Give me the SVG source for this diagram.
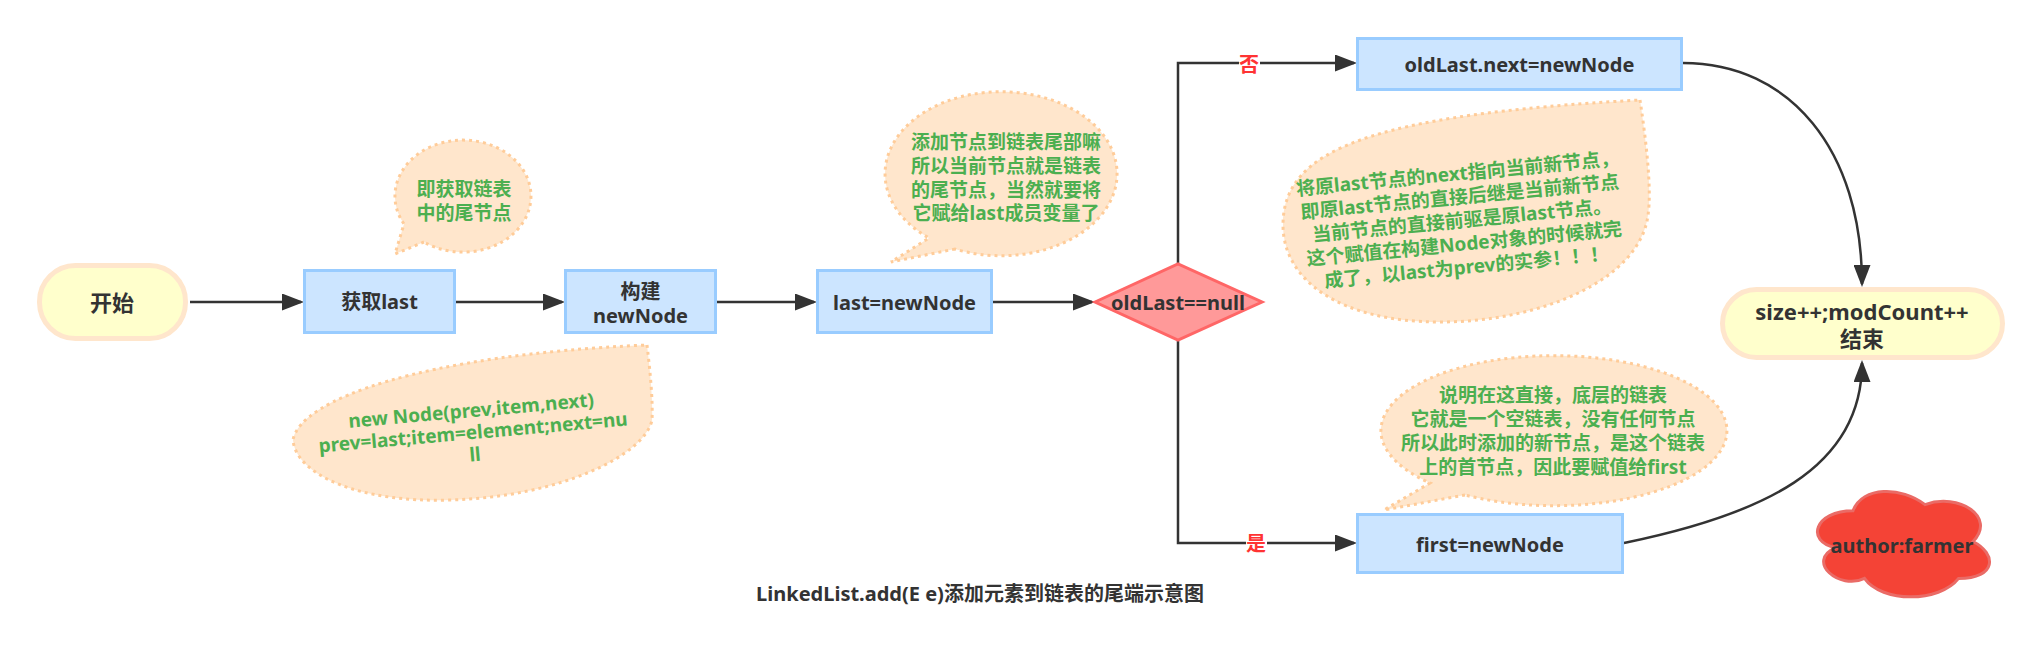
<svg xmlns="http://www.w3.org/2000/svg" width="2041" height="658" viewBox="0 0 2041 658">
<style>
text{font-family:"Noto Sans","Noto Sans CJK SC",sans-serif;font-weight:bold;dominant-baseline:central;text-anchor:middle}
.nt{fill:#333;font-size:20px}
.tt{fill:#333;font-size:22px}
.gt{fill:#4CAF50;font-size:19px}
.rt{fill:#FF3333;font-size:20px}
.box{fill:#CCE5FF;stroke:#99CCFF;stroke-width:3}
.term{fill:#FFFFCC;stroke:#FFE6CC;stroke-width:5}
.dia{fill:#FF9999;stroke:#FF6666;stroke-width:3}
.call{fill:#FFE6CC;stroke:#FFCC99;stroke-width:3;stroke-dasharray:3 4}
.edge{fill:none;stroke:#333;stroke-width:2.5;marker-end:url(#arr)}
</style>
<defs>
<marker id="arr" markerUnits="userSpaceOnUse" markerWidth="22" markerHeight="17" refX="19" refY="8.5" orient="auto">
<path d="M0,0 L22,8.5 L0,17 Z" fill="#333"/>
</marker>
</defs>
<rect width="2041" height="658" fill="#fff"/>

<g id="callout-tail">
<path class="call" d="M424,242 L395,254 L404,224 A68,56 0 1,1 424,242 Z"/>
<text class="gt" x="464" y="189">即获取链表</text>
<text class="gt" x="464" y="213">中的尾节点</text>
</g>

<g id="callout-newnode">
<path class="call" d="M647,345 C650,370 653,400 652,420 C645,455 560,497 450,500 C360,503 296,475 293,440 C300,400 420,355 647,345 Z"/>
<g transform="rotate(-5 473 432)">
<text class="gt" x="473" y="410">new Node(prev,item,next)</text>
<text class="gt" x="473" y="432">prev=last;item=element;next=nu</text>
<text class="gt" x="473" y="454">ll</text>
</g>
</g>

<g id="callout-last">
<path class="call" d="M955,249 L891,262 L929,238 A116,82 0 1,1 955,249 Z"/>
<text class="gt" x="1006" y="142">添加节点到链表尾部嘛</text>
<text class="gt" x="1006" y="166">所以当前节点就是链表</text>
<text class="gt" x="1006" y="190">的尾节点，当然就要将</text>
<text class="gt" x="1006" y="213">它赋给last成员变量了</text>
</g>

<g id="callout-next">
<path class="call" d="M1640,100 C1646,140 1652,190 1648,215 C1640,280 1540,322 1440,322 C1340,322 1283,280 1283,225 C1283,150 1370,115 1640,100 Z"/>
<g transform="rotate(-5.5 1462 220)">
<text class="gt" x="1462" y="173">将原last节点的next指向当前新节点，</text>
<text class="gt" x="1462" y="196.5">即原last节点的直接后继是当前新节点</text>
<text class="gt" x="1462" y="220">当前节点的直接前驱是原last节点。</text>
<text class="gt" x="1462" y="243.5">这个赋值在构建Node对象的时候就完</text>
<text class="gt" x="1462" y="267">成了，以last为prev的实参！！！</text>
</g>
</g>

<g id="callout-first">
<path class="call" d="M1465,495 L1384,510 L1430,483 A173,75 0 1,1 1465,495 Z"/>
<text class="gt" x="1553" y="395">说明在这直接，底层的链表</text>
<text class="gt" x="1553" y="419">它就是一个空链表，没有任何节点</text>
<text class="gt" x="1553" y="443">所以此时添加的新节点，是这个链表</text>
<text class="gt" x="1553" y="467">上的首节点，因此要赋值给first</text>
</g>

<g id="connectors">
<path class="edge" d="M190,302 L301,302"/>
<path class="edge" d="M456,302 L562,302"/>
<path class="edge" d="M717,302 L814,302"/>
<path class="edge" d="M993,302 L1092,302"/>
<path class="edge" d="M1178,264 L1178,63 L1354,63"/>
<path class="edge" d="M1178,340 L1178,543 L1354,543"/>
<path class="edge" d="M1683,63 C1790,63 1862,150 1862,284"/>
<path class="edge" d="M1624,543 C1760,515 1862,470 1862,363"/>
<rect x="1239" y="52" width="21" height="24" fill="#fff"/>
<text class="rt" x="1249" y="64">否</text>
<rect x="1246" y="531" width="21" height="24" fill="#fff"/>
<text class="rt" x="1256" y="543">是</text>
</g>

<g id="start">
<rect class="term" x="39.5" y="265.5" width="146" height="73" rx="36"/>
<text class="tt" x="112" y="302">开始</text>
</g>
<g id="getlast">
<rect class="box" x="304.5" y="270.5" width="150" height="62"/>
<text class="nt" x="379.5" y="301.5">获取last</text>
</g>
<g id="build">
<rect class="box" x="565.5" y="270.5" width="150" height="62"/>
<text class="nt" x="640.5" y="291">构建</text>
<text class="nt" x="640.5" y="315">newNode</text>
</g>
<g id="assign-last">
<rect class="box" x="817.5" y="270.5" width="174" height="62"/>
<text class="nt" x="904.5" y="302">last=newNode</text>
</g>
<g id="decision">
<polygon class="dia" points="1095,302 1178,264 1262,302 1178,340"/>
<text class="nt" x="1178" y="302">oldLast==null</text>
</g>
<g id="assign-next">
<rect class="box" x="1357.5" y="38.5" width="324" height="51"/>
<text class="nt" x="1519.5" y="64">oldLast.next=newNode</text>
</g>
<g id="assign-first">
<rect class="box" x="1357.5" y="514.5" width="265" height="58"/>
<text class="nt" x="1490" y="544">first=newNode</text>
</g>
<g id="end">
<rect class="term" x="1722.5" y="289.5" width="280" height="68" rx="34"/>
<text class="tt" x="1862" y="311">size++;modCount++</text>
<text class="tt" x="1862" y="338">结束</text>
</g>
<g id="author">
<path d="M1853,510.75 C1814.6,510.75 1805,541.5 1835.7,547.65 C1805,561.2 1839.6,590.7 1864.5,578.4 C1881.8,603 1939.4,603 1958.6,578.4 C1997,578.4 1997,553.8 1973,541.5 C1997,516.9 1958.6,492.3 1925,504.6 C1901,486.15 1862.6,486.15 1853,510.75 Z" fill="#F44336" stroke="#EA6B66" stroke-width="3"/>
<text class="nt" x="1902" y="545">author:farmer</text>
</g>
<g id="title">
<text x="980" y="593" style="fill:#333;font-size:20px">LinkedList.add(E e)添加元素到链表的尾端示意图</text>
</g>
</svg>
